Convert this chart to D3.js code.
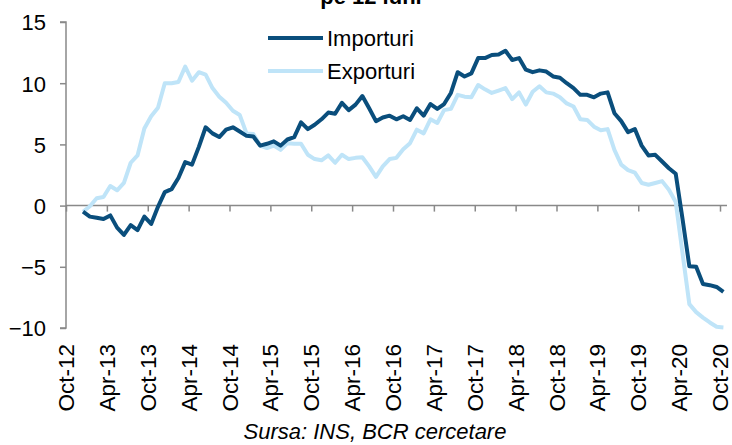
<!DOCTYPE html>
<meta charset="utf-8">
<style>

body {
  margin: 0;
  background: #fff;
}

text {
  font-family: "Liberation Sans", Arial, sans-serif;
  fill: #000;
}

.axis path,
.axis line {
  stroke: #898989;
  stroke-width: 1.5;
}

.line {
  fill: none;
  stroke-width: 4;
  stroke-linejoin: round;
}

</style>
<svg width="732" height="445"></svg>
<script src="https://d3js.org/d3.v7.min.js"></script>
<script>

// months counted from Oct-12, series start Dec-12
var startMonth = 2;

var tickLabels = ["Oct-12", "Apr-13", "Oct-13", "Apr-14", "Oct-14", "Apr-15", "Oct-15", "Apr-16",
    "Oct-16", "Apr-17", "Oct-17", "Apr-18", "Oct-18", "Apr-19", "Oct-19", "Apr-20", "Oct-20"];

var yTicks = [-10, -5, 0, 5, 10, 15];

var importuri = [
  -0.5, -0.9, -1.0, -1.1, -0.8, -1.8, -2.4, -1.6, -2.0, -0.9, -1.5, -0.1, 1.1, 1.35, 2.25, 3.55,
  3.35, 4.8, 6.4, 5.9, 5.6, 6.2, 6.4, 6.05, 5.7, 5.65, 4.9, 5.05, 5.25, 4.9, 5.4, 5.6,
  6.8, 6.25, 6.6, 7.05, 7.6, 7.5, 8.4, 7.8, 8.25, 8.95, 7.95, 6.9, 7.2, 7.35, 7.05, 7.3,
  7.0, 7.95, 7.35, 8.3, 7.9, 8.3, 9.2, 10.9, 10.55, 10.8, 12.05, 12.05, 12.3, 12.35, 12.65, 11.9,
  12.05, 11.1, 10.9, 11.05, 10.95, 10.55, 10.45, 10.0, 9.6, 9.05, 9.05, 8.85, 9.15, 9.25, 7.55, 6.9,
  6.0, 6.25, 4.9, 4.1, 4.15, 3.6, 3.05, 2.6, -1.1, -4.95, -5.0, -6.4, -6.5, -6.65, -7.05
];

var exporturi = [
  -0.5, -0.05, 0.6, 0.7, 1.6, 1.25, 1.85, 3.5, 4.1, 6.3, 7.3, 8.0, 10.0, 10.0, 10.1, 11.35,
  10.2, 10.9, 10.7, 9.6, 8.9, 8.4, 7.75, 7.4, 5.9, 5.85, 4.9, 4.7, 4.9, 4.55, 5.1, 5.05,
  5.05, 4.15, 3.8, 3.7, 4.1, 3.5, 4.15, 3.8, 3.9, 3.95, 3.2, 2.35, 3.2, 3.8, 3.9, 4.6,
  5.1, 6.2, 5.9, 7.05, 6.75, 7.8, 7.9, 9.05, 8.9, 8.85, 9.85, 9.5, 9.2, 9.4, 9.6, 8.7,
  9.25, 8.25, 9.3, 9.75, 9.25, 9.15, 8.85, 8.35, 8.1, 7.05, 7.0, 6.45, 6.15, 6.25, 4.55, 3.35,
  2.9, 2.7, 1.85, 1.7, 1.85, 2.0, 1.3, 0.3, -3.9, -8.05, -8.7, -9.15, -9.55, -9.9, -9.95
];

var svg = d3.select("svg");

var x = d3.scaleLinear().domain([0, 96]).range([66, 720]);
var y = d3.scaleLinear().domain([-10, 15]).range([328, 22]);

// title (second line, mostly cut off at the top as in the source image)
svg.append("text")
    .attr("x", 371)
    .attr("y", 4)
    .attr("text-anchor", "middle")
    .style("font-size", "22px")
    .style("font-weight", "bold")
    .text("pe 12 luni");

// y axis
var yAxis = svg.append("g")
    .attr("class", "axis")
    .attr("transform", "translate(66,0)")
    .call(d3.axisLeft(y).tickValues(yTicks).tickSize(6).tickPadding(14).tickFormat(d3.format("d")));
yAxis.select(".domain").attr("d", "M-6," + y(-10) + "H0V" + y(15) + "H-6");
yAxis.selectAll("text").style("font-size", "22px").attr("dy", "0.36em");

// x axis along zero
var xAxis = svg.append("g")
    .attr("class", "axis")
    .attr("transform", "translate(0," + y(0) + ")")
    .call(d3.axisBottom(x).tickValues(d3.range(0, 97, 6)).tickSize(6).tickFormat(""));
xAxis.select(".domain").attr("d", "M66,0H727");

// month labels, rotated, at the bottom
svg.append("g")
    .selectAll("text")
    .data(tickLabels)
    .enter().append("text")
    .attr("transform", function(d, i) { return "translate(" + (x(i * 6) + 8) + ",344) rotate(-90)"; })
    .attr("text-anchor", "end")
    .style("font-size", "22.5px")
    .text(function(d) { return d; });

var line = d3.line()
    .x(function(d, i) { return x(startMonth + i + 0.5); })
    .y(function(d) { return y(d); });

svg.append("path")
    .datum(exporturi)
    .attr("class", "line")
    .attr("stroke", "#bfe4f8")
    .attr("d", line);

svg.append("path")
    .datum(importuri)
    .attr("class", "line")
    .attr("stroke", "#0a4e7c")
    .attr("d", line);

// legend
var legend = [["Importuri", "#0a4e7c", 38], ["Exporturi", "#bfe4f8", 71]];
var lg = svg.append("g").selectAll("g").data(legend).enter().append("g");
lg.append("line")
    .attr("x1", 268).attr("x2", 323)
    .attr("y1", function(d) { return d[2]; })
    .attr("y2", function(d) { return d[2]; })
    .attr("stroke", function(d) { return d[1]; })
    .attr("stroke-width", 4);
lg.append("text")
    .attr("x", 327)
    .attr("y", function(d) { return d[2] + 8; })
    .style("font-size", "22px")
    .text(function(d) { return d[0]; });

// source
svg.append("text")
    .attr("x", 375)
    .attr("y", 439)
    .attr("text-anchor", "middle")
    .style("font-size", "22px")
    .style("font-style", "italic")
    .text("Sursa: INS, BCR cercetare");

</script>
